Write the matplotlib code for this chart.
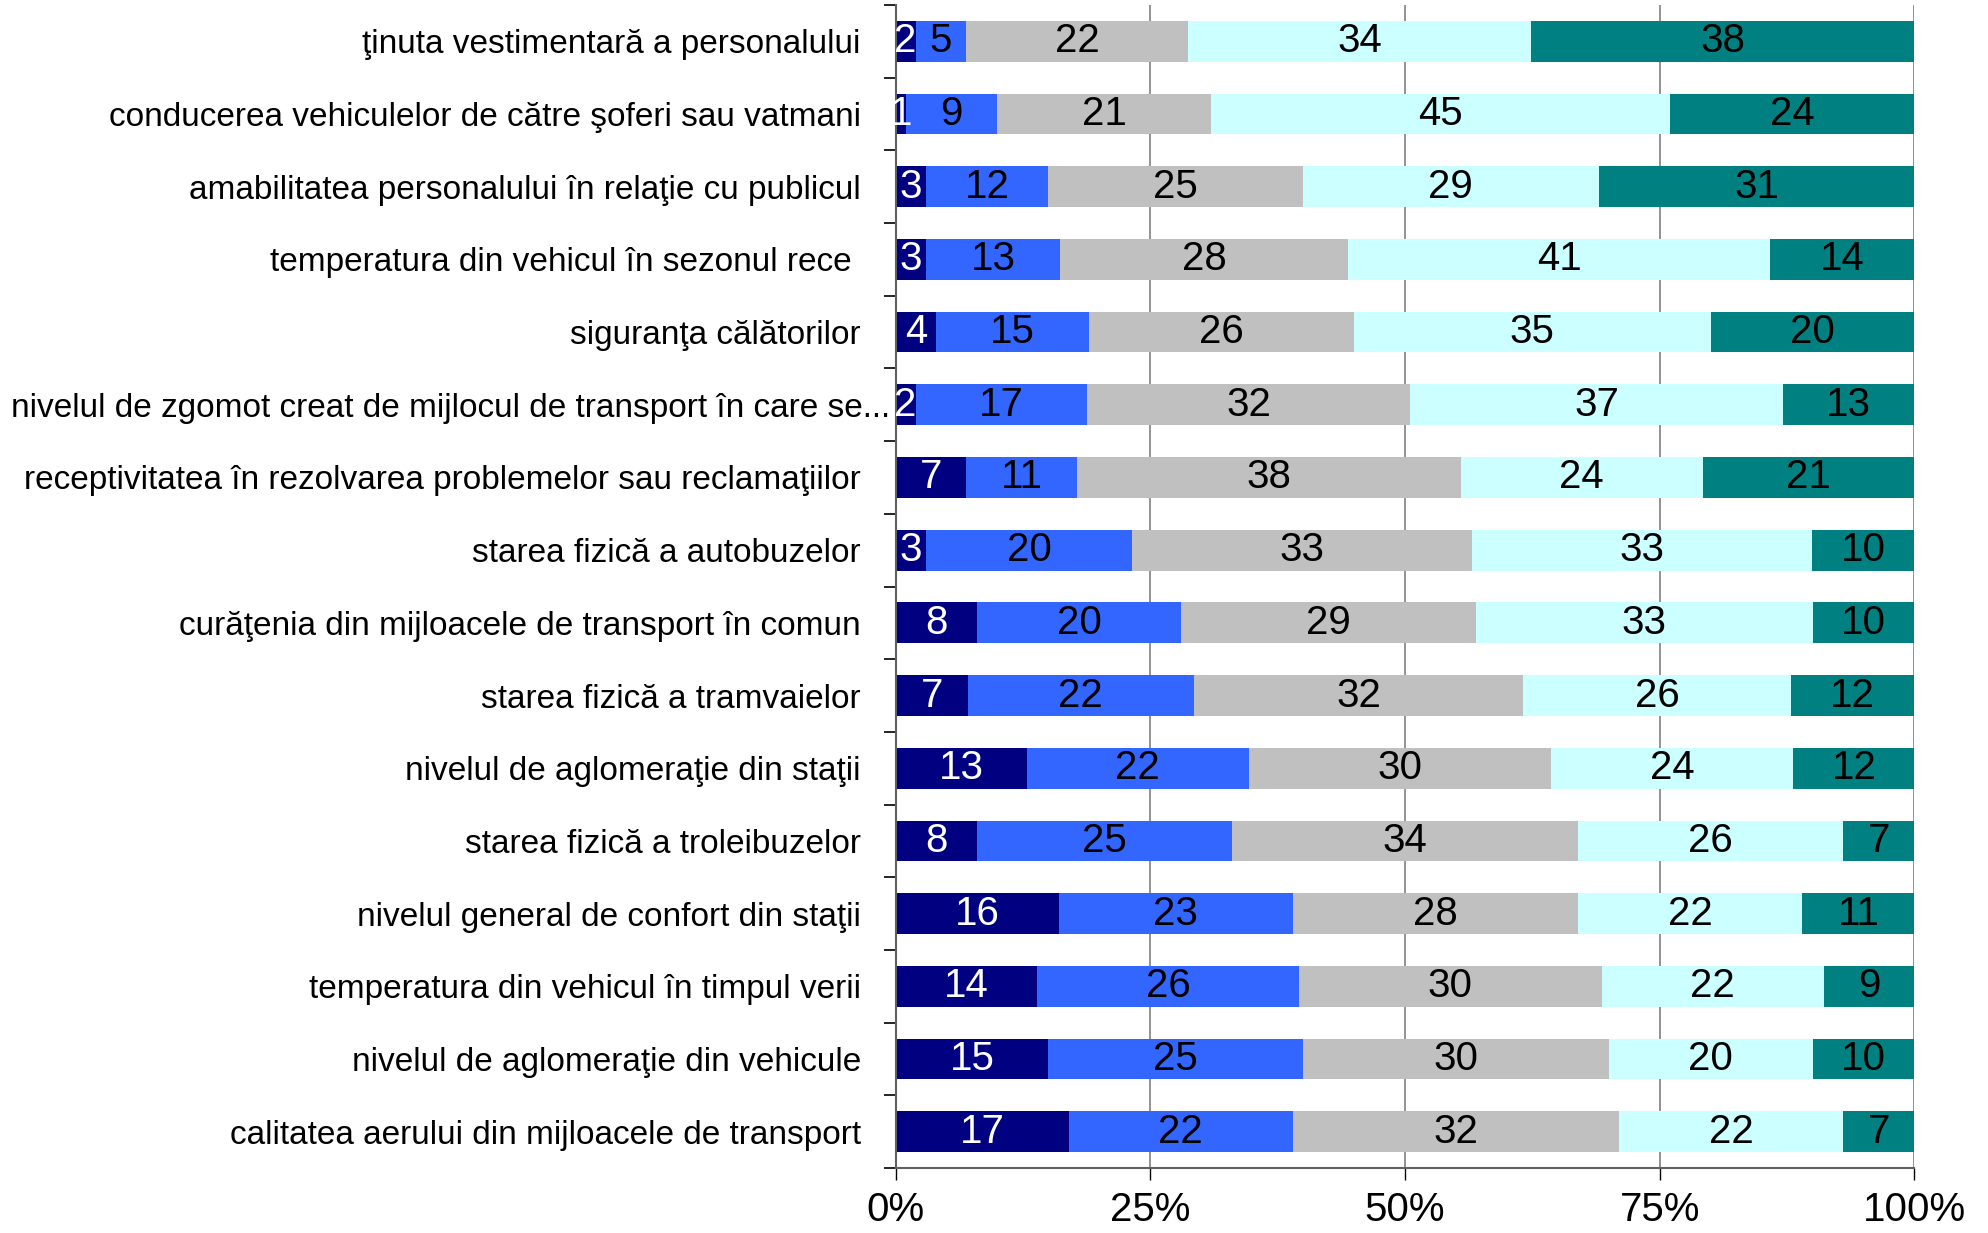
import matplotlib
matplotlib.use("Agg")
import matplotlib.pyplot as plt
import matplotlib.transforms as mtransforms
import numpy as np

plt.rcParams['font.family'] = ['Liberation Sans', 'DejaVu Sans']

categories = [
    "ţinuta vestimentară a personalului",
    "conducerea vehiculelor de către şoferi sau vatmani",
    "amabilitatea personalului în relaţie cu publicul",
    "temperatura din vehicul în sezonul rece ",
    "siguranţa călătorilor",
    "nivelul de zgomot creat de mijlocul de transport în care se...",
    "receptivitatea în rezolvarea problemelor sau reclamaţiilor",
    "starea fizică a autobuzelor",
    "curăţenia din mijloacele de transport în comun",
    "starea fizică a tramvaielor",
    "nivelul de aglomeraţie din staţii",
    "starea fizică a troleibuzelor",
    "nivelul general de confort din staţii",
    "temperatura din vehicul în timpul verii",
    "nivelul de aglomeraţie din vehicule",
    "calitatea aerului din mijloacele de transport",
]
s1 = [2, 1, 3, 3, 4, 2, 7, 3, 8, 7, 13, 8, 16, 14, 15, 17]
s2 = [5, 9, 12, 13, 15, 17, 11, 20, 20, 22, 22, 25, 23, 26, 25, 22]
s3 = [22, 21, 25, 28, 26, 32, 38, 33, 29, 32, 30, 34, 28, 30, 30, 32]
s4 = [34, 45, 29, 41, 35, 37, 24, 33, 33, 26, 24, 26, 22, 22, 20, 22]
s5 = [38, 24, 31, 14, 20, 13, 21, 10, 10, 12, 12, 7, 11, 9, 10, 7]
xticklabels = ["0%", "25%", "50%", "75%", "100%"]

colors = ["#000080", "#3366FF", "#C0C0C0", "#CCFFFF", "#008080"]
text_colors = ["white", "black", "black", "black", "black"]

series = [s1, s2, s3, s4, s5]
data = np.array(series, dtype=float)
totals = data.sum(axis=0)
pct = data / totals * 100

fig = plt.figure(figsize=(19.88, 12.33), dpi=100)
ax = fig.add_axes([0.4505, 1 - 1168 / 1233, 0.5125, (1168 - 5) / 1233])

n = len(categories)
y = np.arange(n)
left = np.zeros(n)
for i in range(5):
    ax.barh(y, pct[i], left=left, height=0.56, color=colors[i], zorder=2)
    for j in range(n):
        ax.text(left[j] + pct[i][j] / 2, y[j], str(series[i][j]),
                ha='center', va='center', fontsize=29, color=text_colors[i], zorder=3)
    left += pct[i]

ax.set_xlim(0, 100)
ax.set_ylim(n - 0.5, -0.5)
for sp in ['top', 'right']:
    ax.spines[sp].set_visible(False)
ax.spines['left'].set_color('#606060')
ax.spines['left'].set_linewidth(1.5)
ax.spines['bottom'].set_color('#606060')
ax.spines['bottom'].set_linewidth(1.5)

ax.set_xticks([0, 25, 50, 75, 100])
ax.set_xticklabels(xticklabels, fontsize=29)
ax.set_yticks(y)
ax.set_yticklabels(categories, fontsize=24)
ax.set_yticks(np.arange(n + 1) - 0.5, minor=True)
ax.tick_params(axis='y', which='major', length=0, pad=25)
ax.tick_params(axis='y', which='minor', length=9, width=1.2, color='black')
ax.tick_params(axis='x', length=8.6, width=1, color='black', pad=8)
ax.grid(axis='x', color='#808080', linewidth=1.2, zorder=0)

# the long truncated label sits closer to the axis in the reference
lbl = ax.get_yticklabels()[5]
lbl.set_transform(lbl.get_transform() +
                  mtransforms.ScaledTranslation(29 / 100, 0, fig.dpi_scale_trans))

fig.savefig("out.png", dpi=100)
